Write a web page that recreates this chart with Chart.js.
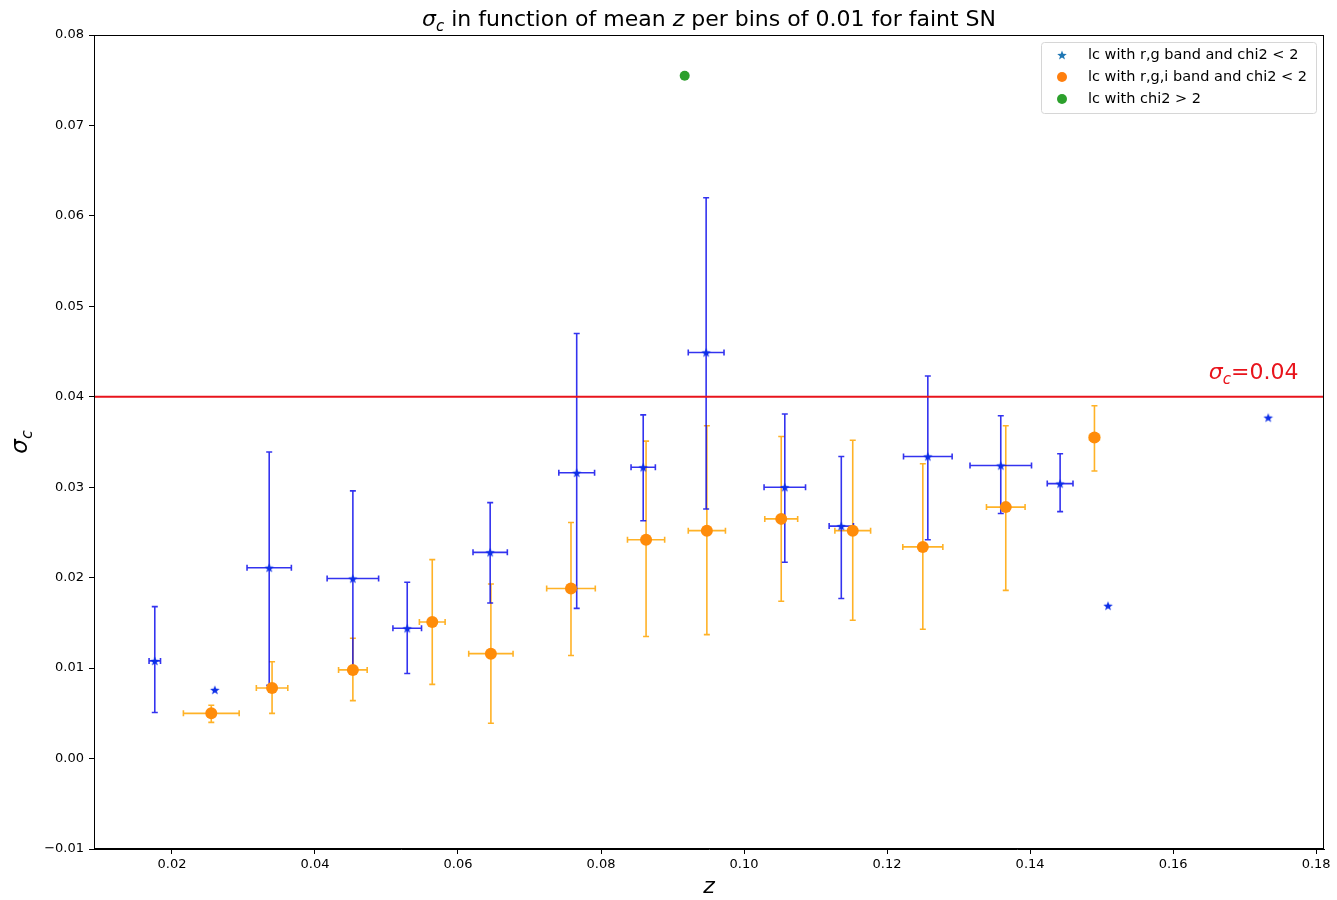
<!DOCTYPE html>
<html>
<head>
<meta charset="utf-8">
<title>sigma_c vs z</title>
<script src="https://cdn.jsdelivr.net/npm/chart.js@4.4.1/dist/chart.umd.min.js"></script>
<style>
	body { margin: 0; background: #ffffff; }
	#wrap { width: 1337px; height: 900px; }
</style>
</head>
<body>
<div id="wrap"><canvas id="myChart" width="1337" height="900"></canvas></div>
<script>
//global variables
var fontName = '"DejaVu Sans", sans-serif';

// lc with r,g band and chi2 < 2 (blue stars)
var rgZ        = [0.0176, 0.0260, 0.0336, 0.0453, 0.0529, 0.0645, 0.0766, 0.0859, 0.0947, 0.1057, 0.1136, 0.1257, 0.1359, 0.1442, 0.1509, 0.1733];
var rgSigma    = [0.0108, 0.0076, 0.0211, 0.0199, 0.0144, 0.0228, 0.0316, 0.0322, 0.0449, 0.0300, 0.0257, 0.0334, 0.0324, 0.0304, 0.0169, 0.0377];
var rgZErr     = [0.0008, null,   0.0031, 0.0036, 0.0020, 0.0024, 0.0025, 0.0017, 0.0025, 0.0029, 0.0017, 0.0034, 0.0043, 0.0018, null,   null];
var rgSigmaLow = [0.0051, null,   0.0081, 0.0101, 0.0094, 0.0172, 0.0166, 0.0263, 0.0276, 0.0217, 0.0177, 0.0242, 0.0271, 0.0273, null,   null];
var rgSigmaHigh= [0.0168, null,   0.0339, 0.0296, 0.0195, 0.0283, 0.0470, 0.0380, 0.0620, 0.0381, 0.0334, 0.0423, 0.0379, 0.0337, null,   null];

// lc with r,g,i band and chi2 < 2 (orange circles)
var rgiZ        = [0.0255, 0.0340, 0.0453, 0.0564, 0.0646, 0.0758, 0.0863, 0.0948, 0.1052, 0.1152, 0.1250, 0.1366, 0.1490];
var rgiSigma    = [0.0050, 0.0078, 0.0098, 0.0151, 0.0116, 0.0188, 0.0242, 0.0252, 0.0265, 0.0252, 0.0234, 0.0278, 0.0355];
var rgiZErr     = [0.0039, 0.0022, 0.0020, 0.0018, 0.0031, 0.0034, 0.0026, 0.0026, 0.0023, 0.0025, 0.0028, 0.0027, 0.0007];
var rgiSigmaLow = [0.0040, 0.0050, 0.0064, 0.0082, 0.0039, 0.0114, 0.0135, 0.0137, 0.0174, 0.0153, 0.0143, 0.0186, 0.0318];
var rgiSigmaHigh= [0.0059, 0.0107, 0.0133, 0.0220, 0.0193, 0.0261, 0.0351, 0.0368, 0.0356, 0.0352, 0.0326, 0.0368, 0.0390];

// lc with chi2 > 2 (green)
var badZ     = [0.0917];
var badSigma = [0.0755];

var seriesLabels = ['lc with r,g band and chi2 < 2', 'lc with r,g,i band and chi2 < 2', 'lc with chi2 > 2'];
var xTicks = [0.02, 0.04, 0.06, 0.08, 0.10, 0.12, 0.14, 0.16, 0.18];
var yTicks = [-0.01, 0.00, 0.01, 0.02, 0.03, 0.04, 0.05, 0.06, 0.07, 0.08];
var sigmaLimit = 0.04;
var limitTextPos = [0.165, 0.042];

//build {x,y} points for chart.js
function toPoints(xs, ys){
	var pts = [];
	for(var i = 0; i < xs.length; i++){
		pts.push({x: xs[i], y: ys[i]});
	}
	return pts;
}

//matplotlib-like filled star, used as point style
function makeStar(color, r){
	var c = document.createElement('canvas');
	var size = Math.ceil(r * 2) + 2;
	c.width = size;
	c.height = size;
	var g = c.getContext('2d');
	g.fillStyle = color;
	g.beginPath();
	for(var i = 0; i < 10; i++){
		var rad = (i % 2 == 0) ? r : r * 0.42;
		var a = -Math.PI / 2 + i * Math.PI / 5;
		var px = size / 2 + rad * Math.cos(a);
		var py = size / 2 + rad * Math.sin(a) + 0.5;
		if(i == 0) g.moveTo(px, py); else g.lineTo(px, py);
	}
	g.closePath();
	g.fill();
	return c;
}

var plotStar = makeStar('#0c2ee8', 5);
var legendStar = makeStar('#1f77b4', 5);

/**
	draws a line of text made of pieces,
	each piece can be italic and/or a subscript
*/
function drawPieces(ctx, pieces, x, y, size, color, align){
	ctx.save();
	ctx.fillStyle = color;
	ctx.textBaseline = 'alphabetic';
	var widths = [];
	var total = 0;
	for(var i = 0; i < pieces.length; i++){
		ctx.font = pieceFont(pieces[i], size);
		widths.push(ctx.measureText(pieces[i].t).width);
		total += widths[i];
	}
	var sx = x;
	if(align == 'center') sx = x - total / 2;
	for(var j = 0; j < pieces.length; j++){
		ctx.font = pieceFont(pieces[j], size);
		ctx.fillText(pieces[j].t, sx, pieces[j].sub ? y + size * 0.22 : y);
		sx += widths[j];
	}
	ctx.restore();
}

function pieceFont(p, size){
	var s = p.sub ? Math.round(size * 0.7) : size;
	return (p.it ? 'italic ' : '') + s + 'px ' + fontName;
}

//one group of error bars
function drawErrors(ctx, xs, ys, zs, sig, zErr, lo, hi, color){
	ctx.save();
	ctx.strokeStyle = color;
	ctx.lineWidth = 1.6;
	var cap = 3;
	for(var i = 0; i < zs.length; i++){
		var px = xs.getPixelForValue(zs[i]);
		var py = ys.getPixelForValue(sig[i]);
		ctx.beginPath();
		if(lo[i] != null){
			var yl = ys.getPixelForValue(lo[i]);
			var yh = ys.getPixelForValue(hi[i]);
			ctx.moveTo(px, yl); ctx.lineTo(px, yh);
			ctx.moveTo(px - cap, yl); ctx.lineTo(px + cap, yl);
			ctx.moveTo(px - cap, yh); ctx.lineTo(px + cap, yh);
		}
		if(zErr[i] != null){
			var xl = xs.getPixelForValue(zs[i] - zErr[i]);
			var xh = xs.getPixelForValue(zs[i] + zErr[i]);
			ctx.moveTo(xl, py); ctx.lineTo(xh, py);
			ctx.moveTo(xl, py - cap); ctx.lineTo(xl, py + cap);
			ctx.moveTo(xh, py - cap); ctx.lineTo(xh, py + cap);
		}
		ctx.stroke();
	}
	ctx.restore();
}

var errorBarPlugin = {
	id: 'errorBars',
	beforeDatasetsDraw: function(chart){
		var ctx = chart.ctx;
		var xs = chart.scales.x, ys = chart.scales.y;
		drawErrors(ctx, xs, ys, rgiZ, rgiSigma, rgiZErr, rgiSigmaLow, rgiSigmaHigh, 'rgba(255,165,0,0.85)');
		drawErrors(ctx, xs, ys, rgZ, rgSigma, rgZErr, rgSigmaLow, rgSigmaHigh, 'rgba(0,0,235,0.8)');
		//red limit line
		var yl = ys.getPixelForValue(sigmaLimit);
		ctx.save();
		ctx.strokeStyle = '#e8141c';
		ctx.lineWidth = 2;
		ctx.beginPath();
		ctx.moveTo(chart.chartArea.left, yl);
		ctx.lineTo(chart.chartArea.right, yl);
		ctx.stroke();
		ctx.restore();
	}
};

//frame, title, y label, limit text and legend
var decorPlugin = {
	id: 'decor',
	afterDraw: function(chart){
		var ctx = chart.ctx;
		var a = chart.chartArea;
		var xs = chart.scales.x, ys = chart.scales.y;
		ctx.save();
		ctx.strokeStyle = '#000000';
		ctx.lineWidth = 1;
		ctx.strokeRect(a.left + 0.5, a.top + 0.5, a.right - a.left - 1, a.bottom - a.top - 1);
		ctx.restore();

		//title
		drawPieces(ctx, [
			{t: '\u03c3', it: true}, {t: 'c', it: true, sub: true},
			{t: ' in function of mean '}, {t: 'z', it: true},
			{t: ' per bins of 0.01 for faint SN'}
		], (a.left + a.right) / 2, 26, 22, '#000000', 'center');

		//y axis label
		ctx.save();
		ctx.translate(27, (a.top + a.bottom) / 2);
		ctx.rotate(-Math.PI / 2);
		drawPieces(ctx, [{t: '\u03c3', it: true}, {t: 'c', it: true, sub: true}], 0, 0, 23, '#000000', 'center');
		ctx.restore();

		//text of the limit line
		drawPieces(ctx, [{t: '\u03c3', it: true}, {t: 'c', it: true, sub: true}, {t: '=0.04'}],
			xs.getPixelForValue(limitTextPos[0]), ys.getPixelForValue(limitTextPos[1]), 22, '#e8141c', 'left');

		//legend box
		var bx = a.right - 283, by = a.top + 7, bw = 275, bh = 71;
		ctx.save();
		ctx.fillStyle = 'rgba(255,255,255,0.85)';
		ctx.strokeStyle = '#d6d6d6';
		ctx.lineWidth = 1;
		ctx.beginPath();
		ctx.roundRect(bx + 0.5, by + 0.5, bw, bh, 3);
		ctx.fill();
		ctx.stroke();
		ctx.font = '14.5px ' + fontName;
		ctx.fillStyle = '#000000';
		ctx.textBaseline = 'middle';
		var rows = [by + 13, by + 35, by + 57];
		ctx.drawImage(legendStar, bx + 21 - legendStar.width / 2, rows[0] - legendStar.height / 2);
		ctx.fillStyle = '#ff7f0e';
		ctx.beginPath(); ctx.arc(bx + 21, rows[1], 5, 0, Math.PI * 2); ctx.fill();
		ctx.fillStyle = '#2ca02c';
		ctx.beginPath(); ctx.arc(bx + 21, rows[2], 5, 0, Math.PI * 2); ctx.fill();
		ctx.fillStyle = '#000000';
		for(var i = 0; i < seriesLabels.length; i++){
			ctx.fillText(seriesLabels[i], bx + 47, rows[i]);
		}
		ctx.restore();
	}
};

function tickText(v){
	var s = v.toFixed(2);
	return s.replace('-', '\u2212');
}

function drawChart(){
	var ctx = document.getElementById('myChart');
	var myChart = new Chart(ctx, {
		type: 'scatter',
		data: {
			datasets: [
				{
					label: seriesLabels[0],
					data: toPoints(rgZ, rgSigma),
					pointStyle: plotStar,
					order: 1
				},
				{
					label: seriesLabels[1],
					data: toPoints(rgiZ, rgiSigma),
					pointStyle: 'circle',
					pointRadius: 6,
					backgroundColor: '#ff8c0a',
					borderColor: '#ff8c0a',
					borderWidth: 0,
					order: 2
				},
				{
					label: seriesLabels[2],
					data: toPoints(badZ, badSigma),
					pointStyle: 'circle',
					pointRadius: 5,
					backgroundColor: '#2ca02c',
					borderColor: '#2ca02c',
					borderWidth: 0,
					order: 3
				}
			]
		},
		options: {
			responsive: false,
			animation: false,
			layout: { padding: { left: 0, top: 35, right: 13, bottom: 0 } },
			plugins: {
				legend: { display: false },
				title: { display: false },
				tooltip: { enabled: false }
			},
			scales: {
				x: {
					type: 'linear',
					min: 0.0091,
					max: 0.1811,
					afterBuildTicks: function(scale){
						scale.ticks = xTicks.map(function(v){ return {value: v}; });
					},
					afterFit: function(scale){ scale.height = 51; },
					grid: { drawOnChartArea: false, drawTicks: true, tickLength: 5, tickColor: '#000000', tickWidth: 1 },
					border: { display: true, color: '#000000', width: 1 },
					ticks: {
						color: '#000000',
						font: { family: fontName, size: 13 },
						padding: 3,
						maxRotation: 0,
						autoSkip: false,
						callback: function(v){ return tickText(v); }
					},
					title: {
						display: true,
						text: 'z',
						color: '#000000',
						font: { family: fontName, size: 22, style: 'italic' },
						padding: { top: 0, bottom: 0 }
					}
				},
				y: {
					type: 'linear',
					min: -0.01,
					max: 0.08,
					afterBuildTicks: function(scale){
						scale.ticks = yTicks.map(function(v){ return {value: v}; });
					},
					afterFit: function(scale){ scale.width = 94; },
					grid: { drawOnChartArea: false, drawTicks: true, tickLength: 5, tickColor: '#000000', tickWidth: 1 },
					border: { display: true, color: '#000000', width: 1 },
					ticks: {
						color: '#000000',
						font: { family: fontName, size: 13 },
						padding: 5,
						autoSkip: false,
						callback: function(v){ return tickText(v); }
					}
				}
			}
		},
		plugins: [errorBarPlugin, decorPlugin]
	});
	return myChart;
}

drawChart();
</script>
</body>
</html>
